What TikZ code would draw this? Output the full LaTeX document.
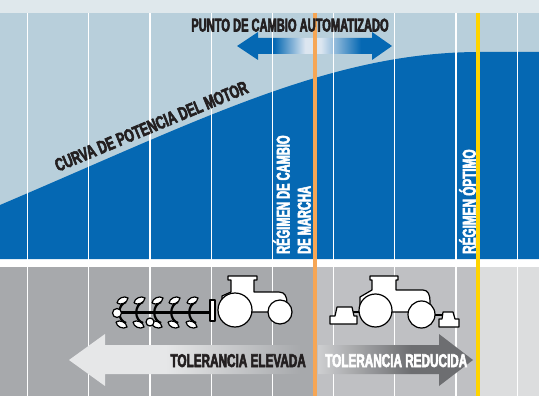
\documentclass[tikz,border=0pt]{standalone}
\usepackage{fontspec}
\newfontfamily\condfont[FakeStretch=0.6, FakeBold=3]{Liberation Sans}
\newfontfamily\midcondfont[FakeStretch=0.635, FakeBold=3]{Liberation Sans}
\newfontfamily\widecondfont[FakeStretch=0.665, FakeBold=3]{Liberation Sans}
\usepackage{tikz}

\definecolor{topstrip}{HTML}{DFE8EC}
\definecolor{skyblue}{HTML}{B8CFDB}
\definecolor{nhblue}{HTML}{0568B3}
\definecolor{fadeblue}{HTML}{DCE6F0}
\definecolor{shiftorange}{HTML}{F6A655}
\definecolor{optyellow}{HTML}{FFD400}
\definecolor{greyhigh}{HTML}{A7A9AC}
\definecolor{greylow}{HTML}{BFC0C3}
\definecolor{greyfade}{HTML}{CDCED0}
\definecolor{greyend}{HTML}{DCDDDE}
\definecolor{arrowlight}{HTML}{E6E7E8}
\definecolor{arrowdark}{HTML}{6D6E71}
\definecolor{inkdark}{HTML}{231F20}

\pgfdeclarehorizontalshading{cambioshade}{100bp}{color(0bp)=(nhblue); color(37bp)=(nhblue); color(47bp)=(fadeblue); color(52bp)=(fadeblue); color(65bp)=(nhblue); color(100bp)=(nhblue)}
\pgfdeclarehorizontalshading{elevadashade}{100bp}{color(0bp)=(arrowlight); color(45bp)=(arrowlight); color(73bp)=(greyhigh); color(100bp)=(greyhigh)}
\pgfdeclarehorizontalshading{reducidashade}{100bp}{color(0bp)=(greyfade); color(25bp)=(greyfade); color(55bp)=(arrowdark); color(100bp)=(arrowdark)}

\tikzset{
  gridline/.style={draw=white, line width=1.2pt},
  shiftline/.style={draw=shiftorange, line width=4pt},
  optline/.style={draw=optyellow, line width=4.5pt},
  chartlabel/.style={font=\condfont\bfseries\fontsize{18.5}{21}\selectfont, inner sep=0pt},
  midlabel/.style={chartlabel, font=\midcondfont\bfseries\fontsize{18.5}{21}\selectfont},
  widelabel/.style={chartlabel, font=\widecondfont\bfseries\fontsize{18.5}{21}\selectfont},
  icon/.style={draw=black, fill=white, line width=1.2pt, line join=round}
}

\begin{document}
\begin{tikzpicture}[x=1pt, y=-1pt]
\useasboundingbox (0,0) rectangle (539,396);

% panels
\fill[topstrip] (0,0) rectangle (539,13);
\fill[skyblue] (0,13) rectangle (539,259);
\fill[white] (0,259) rectangle (539,267);
\fill[greyhigh] (0,267) rectangle (314.7,396);
\fill[greylow] (314.7,267) rectangle (478,396);
\fill[greyend] (478,267) rectangle (539,396);

% power curve
\fill[nhblue] (0,205) .. controls (200,120) and (330,52) .. (480,52) -- (539,52) -- (539,259) -- (0,259) -- cycle;

% automated shift point arrow
\shade[shading=cambioshade] (237,46) -- (258,32) -- (258,38) -- (372,38) -- (372,32) -- (392,46)
  -- (372,60) -- (372,54) -- (258,54) -- (258,60) -- cycle;

% grid
\draw[gridline] (27.5,13) -- (27.5,396) (88.7,13) -- (88.7,396) (149.9,13) -- (149.9,396)
  (211.1,13) -- (211.1,396) (272.3,13) -- (272.3,396) (333.5,13) -- (333.5,396)
  (394.7,13) -- (394.7,396) (455.9,13) -- (455.9,396) (517.1,13) -- (517.1,396);

% tolerance arrows
\shade[shading=elevadashade] (69,360) -- (105,334) -- (105,345) -- (310,345) -- (310,374)
  -- (105,374) -- (105,386) -- cycle;
\shade[shading=reducidashade] (318,345) -- (439,345) -- (439,334) -- (473,360) -- (439,386)
  -- (439,374) -- (318,374) -- cycle;

% engine speed marks
\draw[shiftline] (314.7,13) -- (314.7,396);
\draw[optline] (478,13) -- (478,396);

% plough
\draw[line width=3pt] (117,312) -- (211,312);
\draw[line width=2.2pt] (126,302) .. controls (117,305) and (117,320) .. (126,323)
  (143,302) .. controls (134,305) and (134,320) .. (143,323)
  (161,302) .. controls (152,305) and (152,320) .. (161,323)
  (178,302) .. controls (169,305) and (169,320) .. (178,323)
  (196,302) .. controls (187,305) and (187,320) .. (196,323);
\draw[icon] (117,303) to[bend left=60] (128,298) to[bend left=60] (117,303)
  (134,303) to[bend left=60] (145,298) to[bend left=60] (134,303)
  (152,303) to[bend left=60] (163,298) to[bend left=60] (152,303)
  (169,303) to[bend left=60] (180,298) to[bend left=60] (169,303)
  (187,303) to[bend left=60] (198,298) to[bend left=60] (187,303);
\draw[icon] (116,322) to[bend left=60] (127,327) to[bend left=60] (116,322)
  (133,322) to[bend left=60] (144,327) to[bend left=60] (133,322)
  (151,322) to[bend left=60] (162,327) to[bend left=60] (151,322)
  (168,322) to[bend left=60] (179,327) to[bend left=60] (168,322)
  (186,322) to[bend left=60] (197,327) to[bend left=60] (186,322);
\draw[icon] (117,313) circle[radius=4.5] (150,322) circle[radius=4];
\draw[icon] (210,300) rectangle (215,321);

% plough tractor
\draw[icon] (222,306) -- (222,296) -- (231,292) -- (231,280) -- (228,280) -- (228,276) -- (257,276)
  -- (257,280) -- (254,280) -- (254,292) -- (279,292) .. controls (285,292) and (287,297) .. (287,303)
  -- (287,312) -- (222,312) -- cycle;
\draw[icon] (235,310) circle[radius=17] (280,312) circle[radius=12];

% mower tractor
\draw[line width=2pt] (351,312) -- (361,312) (432,315) -- (443,315);
\draw[icon] (330,324) -- (330,316) -- (335,316) -- (337,307) -- (352,307) -- (354,316) -- (357,316)
  -- (357,324) -- cycle;
\draw[icon] (439,327) -- (439,319) -- (442,319) -- (443,312) -- (453,312) -- (455,319) -- (459,319)
  -- (459,327) -- cycle;
\draw[icon] (360,306) -- (360,297) -- (372,290) -- (372,280) -- (370,280) -- (370,276) -- (398,276)
  -- (398,280) -- (396,280) -- (396,290) -- (423,290) .. controls (428,290) and (430,295) .. (430,301)
  -- (430,312) -- (360,312) -- cycle;
\draw[icon] (375.5,310.5) circle[radius=16.5] (421.5,314.5) circle[radius=13.5];

% texts
\node[chartlabel, text=inkdark, anchor=base] (punto) at (290,31.5) {PUNTO DE CAMBIO AUTOMATIZADO};
\node[widelabel, text=inkdark, anchor=base west, rotate=22.6] (curva) at (58,172) {CURVA DE POTENCIA DEL MOTOR};
\node[chartlabel, text=white, anchor=north west, rotate=90, align=left] (cambio) at (273,254) {RÉGIMEN DE CAMBIO\\DE MARCHA};
\node[midlabel, text=white, anchor=north west, rotate=90] (optimo) at (459,254) {RÉGIMEN ÓPTIMO};
\node[midlabel, text=inkdark, anchor=base east] (elevada) at (306,367) {TOLERANCIA ELEVADA};
\node[midlabel, text=white, anchor=base west] (reducida) at (325,367) {TOLERANCIA REDUCIDA};
\end{tikzpicture}
\end{document}
